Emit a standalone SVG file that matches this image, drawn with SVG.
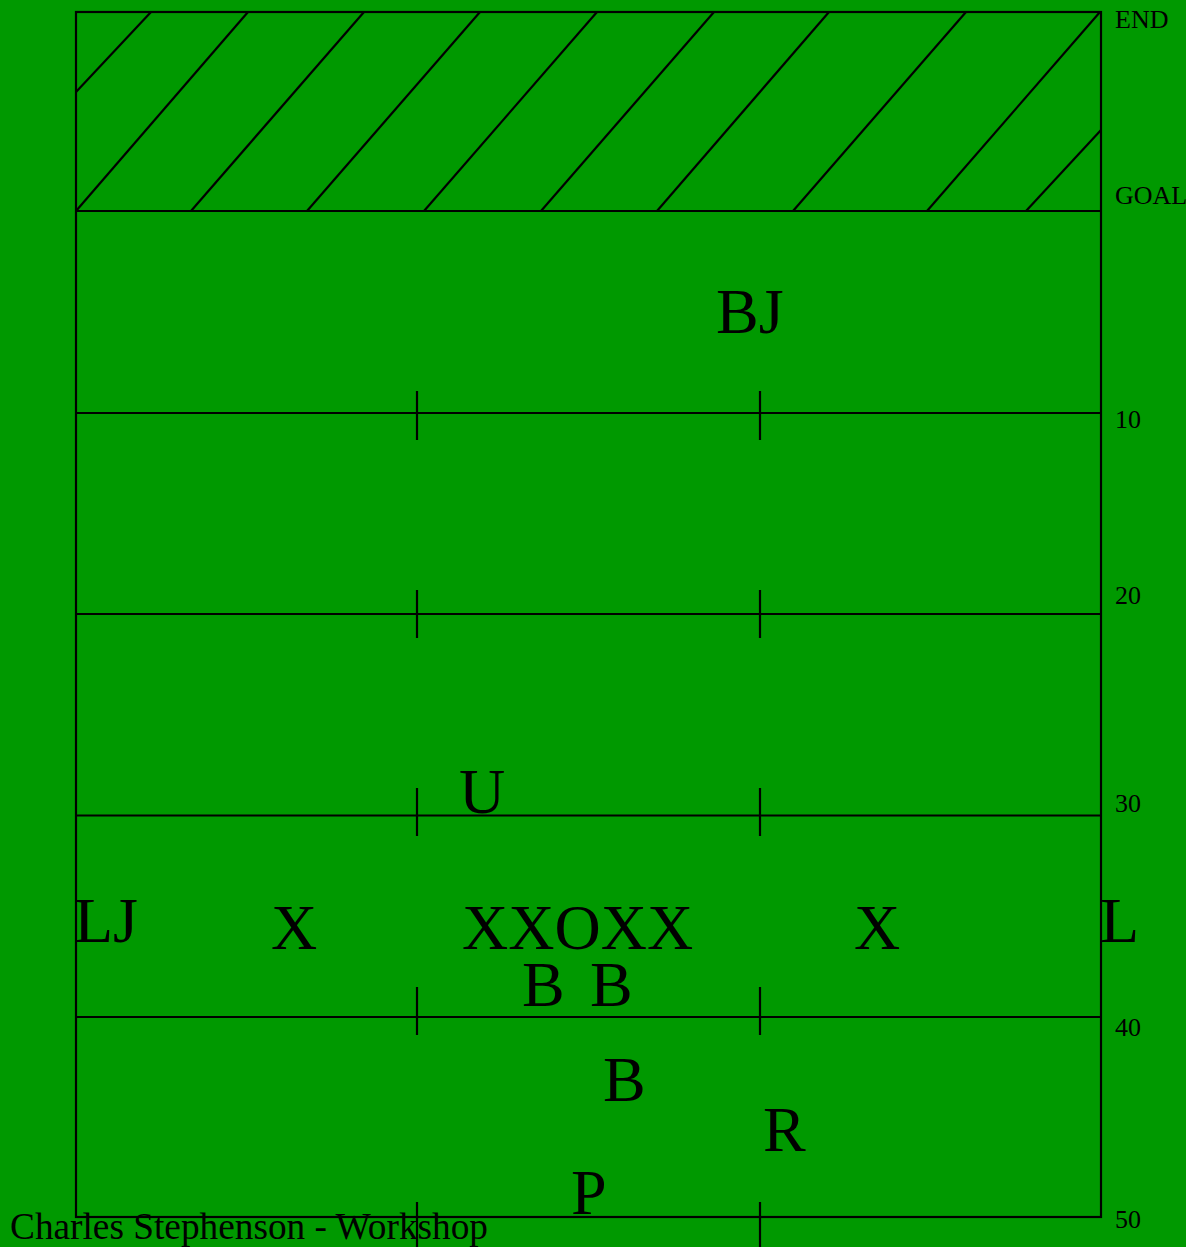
<svg xmlns="http://www.w3.org/2000/svg" width="1186" height="1247" viewBox="0 0 1186 1247">
<style>
.ln{stroke:#000;stroke-width:2.2;fill:none}
.lbl{font-family:"Liberation Serif","Times New Roman",serif;font-size:26px;fill:#000}
.pl{font-family:"Liberation Serif","Times New Roman",serif;font-size:64px;fill:#000}
.ttl{font-family:"Liberation Serif","Times New Roman",serif;font-size:37.3px;fill:#000}
</style>
<rect x="0" y="0" width="1186" height="1247" fill="#009900"/>
<g id="field" class="ln">
<rect x="76" y="12" width="1025" height="1205"/>
<line x1="76" y1="211" x2="1101" y2="211"/>
<line x1="76" y1="413" x2="1101" y2="413"/>
<line x1="76" y1="614" x2="1101" y2="614"/>
<line x1="76" y1="815.5" x2="1101" y2="815.5"/>
<line x1="76" y1="1017" x2="1101" y2="1017"/>
</g>
<g id="hatch" class="ln">
<line x1="76" y1="92" x2="151" y2="12"/>
<line x1="76" y1="211" x2="248" y2="12"/>
<line x1="191" y1="211" x2="364" y2="12"/>
<line x1="307" y1="211" x2="480" y2="12"/>
<line x1="424" y1="211" x2="597" y2="12"/>
<line x1="541" y1="211" x2="714" y2="12"/>
<line x1="657" y1="211" x2="829" y2="12"/>
<line x1="793" y1="211" x2="966" y2="12"/>
<line x1="927" y1="211" x2="1100" y2="12"/>
<line x1="1026" y1="211" x2="1101" y2="130"/>
</g>
<g id="hashmarks" class="ln">
<line x1="417" y1="391" x2="417" y2="440"/>
<line x1="760" y1="391" x2="760" y2="440"/>
<line x1="417" y1="590" x2="417" y2="638"/>
<line x1="760" y1="590" x2="760" y2="638"/>
<line x1="417" y1="788" x2="417" y2="836"/>
<line x1="760" y1="788" x2="760" y2="836"/>
<line x1="417" y1="987" x2="417" y2="1035"/>
<line x1="760" y1="987" x2="760" y2="1035"/>
<line x1="417" y1="1202" x2="417" y2="1247"/>
<line x1="760" y1="1202" x2="760" y2="1247"/>
</g>
<g id="yard-labels">
<text class="lbl" x="1115" y="28">END</text>
<text class="lbl" x="1115" y="204">GOAL</text>
<text class="lbl" x="1115" y="428">10</text>
<text class="lbl" x="1115" y="604">20</text>
<text class="lbl" x="1115" y="812">30</text>
<text class="lbl" x="1115" y="1036">40</text>
<text class="lbl" x="1115" y="1228">50</text>
</g>
<g id="player-BJ"><text class="pl" x="716" y="333">BJ</text></g>
<g id="player-U"><text class="pl" x="459" y="813">U</text></g>
<g id="player-LJ"><text class="pl" x="74" y="942">LJ</text></g>
<g id="player-X-left"><text class="pl" x="271" y="949">X</text></g>
<g id="line-XXOXX"><text class="pl" x="462" y="949">XXOXX</text></g>
<g id="player-X-right"><text class="pl" x="854" y="949">X</text></g>
<g id="player-L"><text class="pl" x="1100" y="942">L</text></g>
<g id="player-B1"><text class="pl" x="522" y="1006">B</text></g>
<g id="player-B2"><text class="pl" x="590" y="1006">B</text></g>
<g id="player-B3"><text class="pl" x="603" y="1101">B</text></g>
<g id="player-R"><text class="pl" x="763" y="1151">R</text></g>
<g id="player-P"><text class="pl" x="571" y="1214">P</text></g>
<g id="connectors"></g>
<text class="ttl" x="10" y="1239">Charles Stephenson - Workshop</text>
</svg>
